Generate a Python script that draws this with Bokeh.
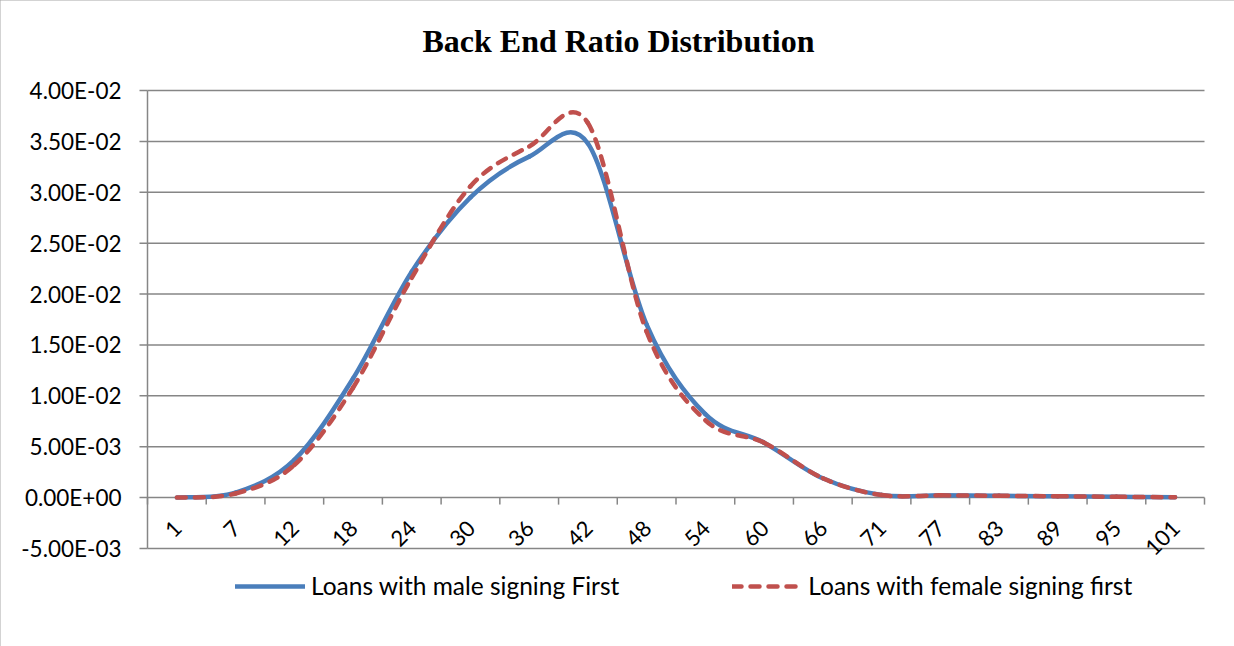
import math

from bokeh.plotting import figure
from bokeh.models import Range1d, Legend, LegendItem, Label, ColumnDataSource
from bokeh.core.properties import value
from bokeh.embed import file_html
from bokeh.resources import INLINE

# Back-end ratio buckets on the category axis
categories = ["1", "7", "12", "18", "24", "30", "36", "42", "48",
              "54", "60", "66", "71", "77", "83", "89", "95", "101"]

# Share of loans falling in each bucket
male_first = [0.0, 0.0005, 0.0037, 0.0117, 0.0222, 0.0295, 0.0335, 0.0348, 0.0170,
              0.0082, 0.0054, 0.0019, 0.00025, 0.00022, 0.00018, 0.00013, 0.00008, 0.00003]
female_first = [0.0, 0.0004, 0.0032, 0.0108, 0.0216, 0.0306, 0.0345, 0.0368, 0.0163,
                0.0076, 0.0054, 0.0019, 0.00025, 0.00022, 0.00018, 0.00013, 0.00008, 0.00003]

series_names = ["Loans with male signing First", "Loans with female signing first"]
y_ticks = [-0.005, 0.0, 0.005, 0.01, 0.015, 0.02, 0.025, 0.03, 0.035, 0.04]
chart_title = "Back End Ratio Distribution"

BLUE = "#4a7ebb"
RED = "#c0504d"
GREY = "#868686"
LABEL_FONT = "Lato"

# canvas and plot-area box (pixels)
W, H = 1234, 646
PLOT_L, PLOT_R, PLOT_T, PLOT_B = 147, 1204, 90, 548


def smooth_segments(ys):
    """Cubic Bezier pieces through the points (spreadsheet-style smoothed line)."""
    n = len(ys)
    pts = [(float(i), float(y)) for i, y in enumerate(ys)]
    seg = {k: [] for k in ("x0", "y0", "x1", "y1", "cx0", "cy0", "cx1", "cy1")}
    for i in range(n - 1):
        pp = pts[max(i - 1, 0)]
        p0 = pts[i]
        p1 = pts[i + 1]
        pn = pts[min(i + 2, n - 1)]
        seg["x0"].append(p0[0]); seg["y0"].append(p0[1])
        seg["x1"].append(p1[0]); seg["y1"].append(p1[1])
        seg["cx0"].append(p0[0] + (p1[0] - pp[0]) / 6.0)
        seg["cy0"].append(p0[1] + (p1[1] - pp[1]) / 6.0)
        seg["cx1"].append(p1[0] - (pn[0] - p0[0]) / 6.0)
        seg["cy1"].append(p1[1] - (pn[1] - p0[1]) / 6.0)
    return ColumnDataSource(seg)


n_cat = len(categories)
x_lo, x_hi = -0.5, n_cat - 0.5
y_lo, y_hi = y_ticks[0], y_ticks[-1]

# data units per pixel, so the plot box lands where it should on the full canvas
dx = (x_hi - x_lo) / (PLOT_R - PLOT_L)
dy = (y_hi - y_lo) / (PLOT_B - PLOT_T)
x_range = Range1d(x_lo - PLOT_L * dx, x_hi + (W - PLOT_R) * dx)
y_range = Range1d(y_lo - (H - PLOT_B) * dy, y_hi + PLOT_T * dy)

p = figure(width=W, height=H, x_range=x_range, y_range=y_range,
           x_axis_type=None, y_axis_type=None, title=None,
           output_backend="svg", toolbar_location=None, min_border=0)
p.outline_line_color = None
p.background_fill_color = "white"
p.border_fill_color = "white"
p.xgrid.visible = False
p.ygrid.visible = False
# chart-area border
p.styles = {"outline": "2px solid #a6a6a6", "outline-offset": "-2px"}

# horizontal gridlines
n_y = len(y_ticks)
p.segment(x0=[x_lo] * n_y, y0=y_ticks, x1=[x_hi] * n_y, y1=y_ticks,
          line_color=GREY, line_width=1.5)

# value axis: line, outward ticks, labels
p.segment(x0=[x_lo], y0=[y_lo], x1=[x_lo], y1=[y_hi], line_color=GREY, line_width=1.5)
p.segment(x0=[x_lo] * n_y, y0=y_ticks, x1=[x_lo - 8 * dx] * n_y, y1=y_ticks,
          line_color=GREY, line_width=1.5)
p.text(x=[x_lo] * n_y, y=y_ticks, text=[f"{t:.2E}" for t in y_ticks],
       x_offset=-26, text_align="right", text_baseline="middle",
       text_font=value(LABEL_FONT), text_font_size="22.5px", text_color="black")

# category axis along the zero line
bounds = [i - 0.5 for i in range(n_cat + 1)]
p.segment(x0=bounds, y0=[0.0] * len(bounds), x1=bounds, y1=[-7 * dy] * len(bounds),
          line_color=GREY, line_width=1.5)
p.text(x=list(range(n_cat)), y=[0.0] * n_cat, text=categories,
       angle=math.pi / 4, text_align="right", text_baseline="middle",
       x_offset=1, y_offset=27,
       text_font=value(LABEL_FONT), text_font_size="22px", text_color="black")

# the two density curves
r_male = p.bezier(x0="x0", y0="y0", x1="x1", y1="y1",
                  cx0="cx0", cy0="cy0", cx1="cx1", cy1="cy1",
                  source=smooth_segments(male_first),
                  line_color=BLUE, line_width=4.5, line_cap="round")
r_female = p.bezier(x0="x0", y0="y0", x1="x1", y1="y1",
                    cx0="cx0", cy0="cy0", cx1="cx1", cy1="cy1",
                    source=smooth_segments(female_first),
                    line_color=RED, line_width=4.5, line_cap="round",
                    line_dash="9 9")

legend = Legend(items=[LegendItem(label=series_names[0], renderers=[r_male]),
                       LegendItem(label=series_names[1], renderers=[r_female])],
                orientation="horizontal", location=(235, 46),
                glyph_width=70, label_standoff=6, spacing=113,
                padding=0, margin=0,
                border_line_color=None, background_fill_alpha=0,
                label_text_font=LABEL_FONT, label_text_font_size="24.5px",
                label_text_color="black")
p.add_layout(legend)

p.add_layout(Label(x=618, y=H - 40, x_units="screen", y_units="screen",
                   text=chart_title, text_align="center", text_baseline="middle",
                   text_font="Liberation Serif", text_font_style="bold",
                   text_font_size="32px", text_color="black"))

open("out.html", "w").write(file_html(p, INLINE))
